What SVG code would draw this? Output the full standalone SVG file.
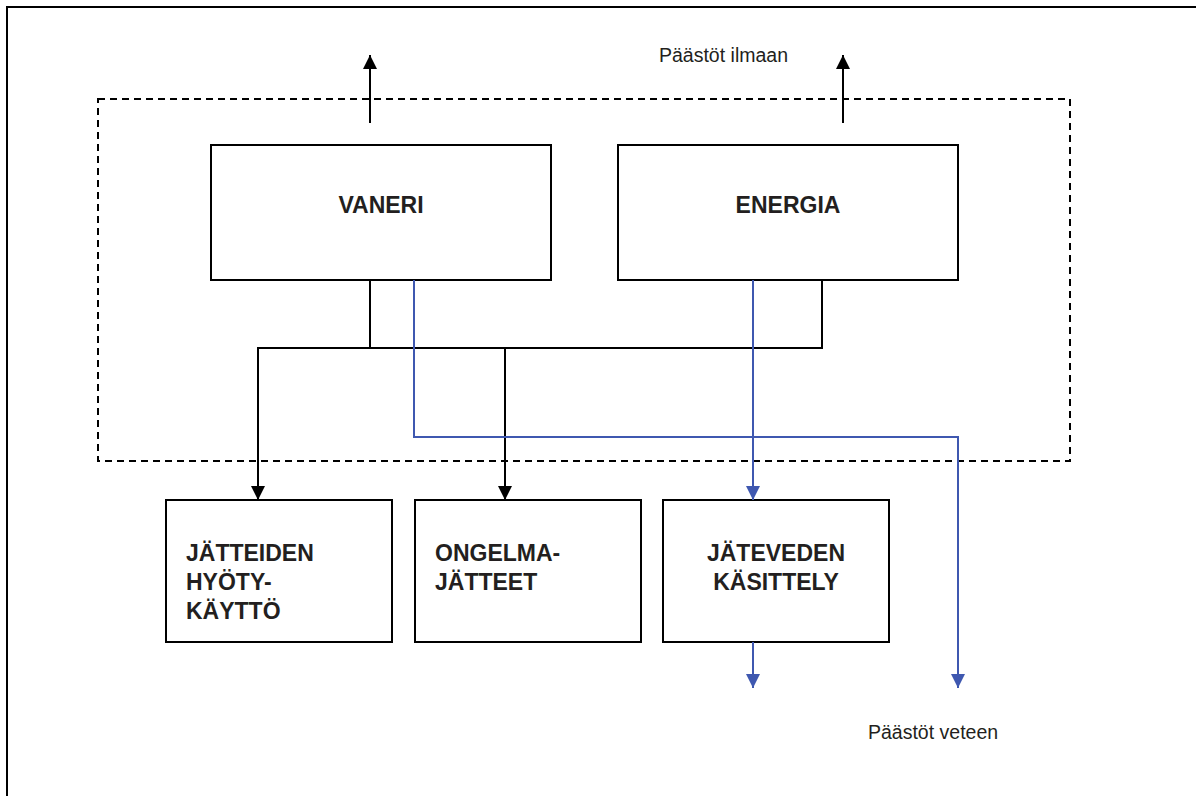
<svg xmlns="http://www.w3.org/2000/svg" width="1196" height="796" viewBox="0 0 1196 796">
<style>
.box{fill:#fff;stroke:#000;stroke-width:2}
.bl{fill:none;stroke:#000;stroke-width:2}
.bu{fill:none;stroke:#3F58B0;stroke-width:2}
.t{font-family:"Liberation Sans",Arial,sans-serif;font-weight:bold;font-size:23px;fill:#231f20}
.n{font-family:"Liberation Sans",Arial,sans-serif;font-size:19.5px;fill:#231f20}
</style>
<defs>
<marker id="ak" viewBox="0 0 10 10" refX="10" refY="5" markerWidth="14" markerHeight="16" markerUnits="userSpaceOnUse" orient="auto"><path d="M0,0 L10,5 L0,10 z" fill="#000"/></marker>
<marker id="ab" viewBox="0 0 10 10" refX="10" refY="5" markerWidth="14" markerHeight="16" markerUnits="userSpaceOnUse" orient="auto"><path d="M0,0 L10,5 L0,10 z" fill="#3F58B0"/></marker>
</defs>
<rect width="1196" height="796" fill="#fff"/>
<g id="frame">
<path d="M7,796 V7 H1196" fill="none" stroke="#000" stroke-width="2"/>
<rect x="98" y="99" width="972" height="362" fill="none" stroke="#000" stroke-width="2" stroke-dasharray="7,5"/>
</g>
<g id="vaneri"><rect class="box" x="211" y="145" width="340" height="135"/><text class="t" x="381" y="213" text-anchor="middle">VANERI</text></g>
<g id="energia"><rect class="box" x="618" y="145" width="340" height="135"/><text class="t" x="788" y="213" text-anchor="middle">ENERGIA</text></g>
<g id="hyotykaytto"><rect class="box" x="166" y="500" width="226" height="142"/><text class="t" x="186" y="561">JÄTTEIDEN</text><text class="t" x="186" y="590">HYÖTY-</text><text class="t" x="186" y="619">KÄYTTÖ</text></g>
<g id="ongelmajatteet"><rect class="box" x="415" y="500" width="226" height="142"/><text class="t" x="435" y="561">ONGELMA-</text><text class="t" x="435" y="590">JÄTTEET</text></g>
<g id="jatevesi"><rect class="box" x="663" y="500" width="226" height="142"/><text class="t" x="776" y="561" text-anchor="middle">JÄTEVEDEN</text><text class="t" x="776" y="590" text-anchor="middle">KÄSITTELY</text></g>
<g id="labels">
<text class="n" x="659" y="62">Päästöt ilmaan</text>
<text class="n" x="868" y="739">Päästöt veteen</text>
</g>
<g id="connectors">
<path class="bl" d="M370,123 V55" marker-end="url(#ak)"/>
<path class="bl" d="M843,123 V55" marker-end="url(#ak)"/>
<path class="bl" d="M370,280 V348"/>
<path class="bl" d="M505,348 H258 V500" marker-end="url(#ak)"/>
<path class="bl" d="M822,280 V348 H505 V500" marker-end="url(#ak)"/>
<path class="bu" d="M414,280 V437 H958 V688" marker-end="url(#ab)"/>
<path class="bu" d="M753,280 V500" marker-end="url(#ab)"/>
<path class="bu" d="M753,642 V688" marker-end="url(#ab)"/>
</g>
</svg>
